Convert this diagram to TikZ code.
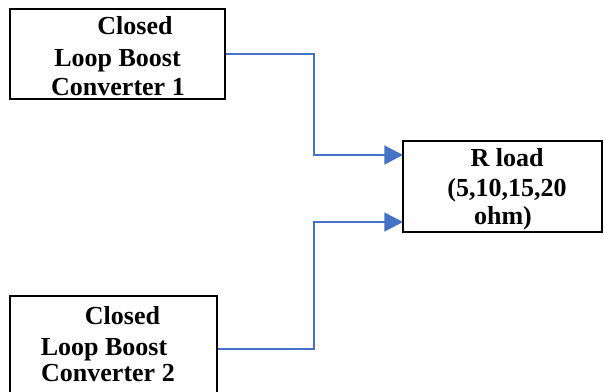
\documentclass[tikz,border=0pt]{standalone}
\usepackage{fontspec}
\setmainfont{Liberation Serif}
\usetikzlibrary{arrows.meta}
\definecolor{arrblue}{RGB}{68,114,196}
\begin{document}
\begin{tikzpicture}[x=0.75pt,y=-0.75pt,
  box/.style={draw=black,line width=0.9pt,rectangle,inner sep=0pt},
  txt/.style={anchor=base,inner sep=0pt,font=\fontsize{19.5}{22}\selectfont\bfseries},
  arr/.style={draw=arrblue,line width=1.9pt,-{Triangle[length=14pt,width=14pt]}}]
\path[use as bounding box,clip] (0,0) rectangle (604,392);
\node[box,minimum width=161.25pt,minimum height=67.5pt] (b1) at (117.5,54) {};
\node[box,minimum width=155.25pt,minimum height=79.5pt] (b2) at (113.5,349) {};
\node[box,minimum width=149.25pt,minimum height=68.25pt] (r) at (502.5,186.5) {};
\node[txt] (t1a) at (135,35) {Closed};
\node[txt] (t1b) at (117.5,67) {Loop Boost};
\node[txt] (t1c) at (118,96) {Converter 1};
\node[txt] (t2a) at (122.5,325) {Closed};
\node[txt] (t2b) at (104,355) {Loop Boost};
\node[txt] (t2c) at (108,382) {Converter 2};
\node[txt] (tra) at (507,166.5) {R load};
\node[txt] (trb) at (507,197) {(5,10,15,20};
\node[txt] (trc) at (503,225) {ohm)};
\coordinate (j1) at (314,155);
\coordinate (ra) at (403,155);
\coordinate (j2) at (314,222);
\coordinate (rb) at (403,222);
\draw[arr] (b1.east) -| (j1) -- (ra);
\draw[arr] (b2.east) -| (j2) -- (rb);
\end{tikzpicture}
\end{document}
